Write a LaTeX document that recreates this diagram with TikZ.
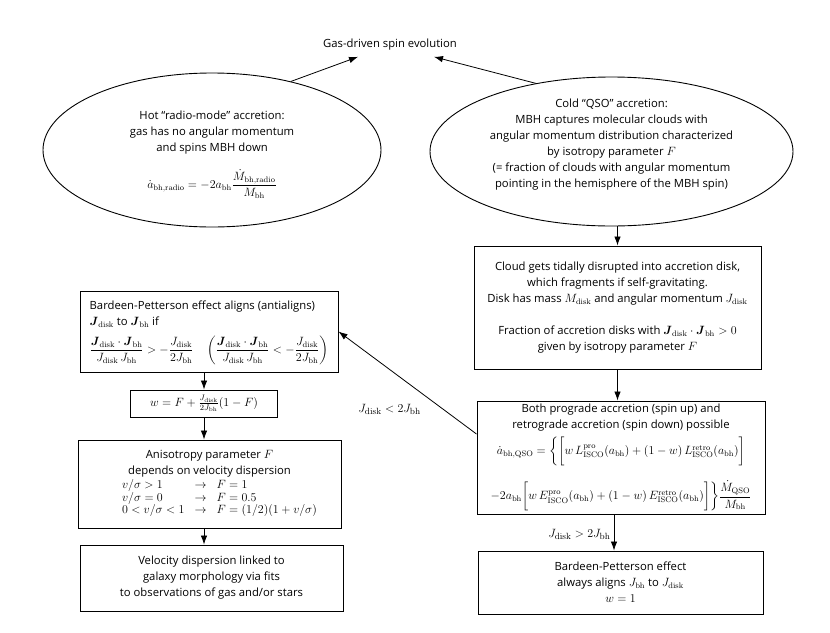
\documentclass[tikz,border=0pt]{standalone}
\usepackage{amsmath}
\usepackage[no-math]{fontspec}
\setmainfont{Open Sans}[Scale=0.94]
\usetikzlibrary{arrows.meta,shapes.geometric}
\begin{document}
\begin{tikzpicture}[x=1pt,y=1pt,
  >={Latex[length=9pt,width=6.5pt]},
  base/.style={font=\fontsize{12}{16}\selectfont, align=center},
  box/.style={base, draw, line width=1pt, rectangle, inner sep=2pt},
  oval/.style={draw, line width=0.9pt, ellipse, inner sep=0pt},
  conn/.style={->, line width=0.8pt},
  lbl/.style={font=\fontsize{12.5}{15}\selectfont}]
\useasboundingbox (0,0) rectangle (830,-632);

% title
\node[base, inner sep=6pt] (title) at (390,-45) {Gas-driven spin evolution};
\path (title.south) ++(-32,0) coordinate (tipL) ++(76,0) coordinate (tipR);

% ellipses
\node[oval, minimum width=338pt, minimum height=154pt] (radio) at (212,-150) {};
\node[base] (radiotext) at (212,-155) {Hot ``radio-mode'' accretion:\\ gas has no angular momentum\\ and spins MBH down\\[14pt]
 $\displaystyle \dot a_{\rm bh,radio} = -2a_{\rm bh}\frac{\dot M_{\rm bh,radio}}{M_{\rm bh}}$};

\node[oval, minimum width=363pt, minimum height=149pt] (qso) at (611.5,-151.5) {};
\node[base] (qsotext) at (611.5,-145) {Cold ``QSO'' accretion:\\ MBH captures molecular clouds with\\ angular momentum distribution characterized\\ by isotropy parameter $F$\\ (= fraction of clouds with angular momentum\\ pointing in the hemisphere of the MBH spin)};

% right column
\node[box, minimum width=287pt, minimum height=123pt] (cloud) at (617.5,-307.5) {Cloud gets tidally disrupted into accretion disk,\\ which fragments if self-gravitating.\\ Disk has mass $M_{\rm disk}$ and angular momentum $J_{\rm disk}$\\[16pt]
 Fraction of accretion disks with $\boldsymbol{J}_{\rm disk}\cdot\boldsymbol{J}_{\rm bh}>0$\\ given by isotropy parameter $F$};

\node[box, minimum width=288pt, minimum height=113pt] (both) at (621,-457.5) {Both prograde accretion (spin up) and\\ retrograde accretion (spin down) possible\\[5pt]
 $\dot a_{\rm bh,QSO} = \bigg\{\bigg[w\,L^{\rm pro}_{\rm ISCO}(a_{\rm bh})+(1-w)\,L^{\rm retro}_{\rm ISCO}(a_{\rm bh})\bigg]$\\[14pt]
 $-2a_{\rm bh}\bigg[w\,E^{\rm pro}_{\rm ISCO}(a_{\rm bh})+(1-w)\,E^{\rm retro}_{\rm ISCO}(a_{\rm bh})\bigg]\bigg\}\dfrac{\dot M_{\rm QSO}}{M_{\rm bh}}$};

\node[box, minimum width=285pt, minimum height=63pt] (bp2) at (620.5,-582.5) {Bardeen-Petterson effect\\ always aligns $J_{\rm bh}$ to $J_{\rm disk}$\\ $w=1$};

% left column
\node[box, minimum width=258pt, minimum height=81pt] (bp) at (209,-331.5) {\begin{tabular}{@{}l@{}}Bardeen-Petterson effect aligns (antialigns)\\ $\boldsymbol{J}_{\rm disk}$ to $\boldsymbol{J}_{\rm bh}$ if\\[6pt]
 $\displaystyle \frac{\boldsymbol{J}_{\rm disk}\cdot\boldsymbol{J}_{\rm bh}}{J_{\rm disk}\,J_{\rm bh}} > -\frac{J_{\rm disk}}{2J_{\rm bh}}\quad\left(\frac{\boldsymbol{J}_{\rm disk}\cdot\boldsymbol{J}_{\rm bh}}{J_{\rm disk}\,J_{\rm bh}} < -\frac{J_{\rm disk}}{2J_{\rm bh}}\right)$\end{tabular}};

\node[box, minimum width=147pt, minimum height=27pt] (wbox) at (204,-403.5) {$w = F + \tfrac{J_{\rm disk}}{2J_{\rm bh}}(1-F)$};

\node[box, minimum width=263pt, minimum height=88pt] (anis) at (209.5,-484) {Anisotropy parameter $F$\\ depends on velocity dispersion\\[1pt]
 \hspace*{20pt}{\renewcommand{\arraystretch}{0.76}$\begin{array}{@{}lll@{}} v/\sigma>1 & \rightarrow & F=1\\ v/\sigma=0 & \rightarrow & F=0.5\\ 0<v/\sigma<1 & \rightarrow & F=(1/2)(1+v/\sigma)\end{array}$}};

\node[box, minimum width=263pt, minimum height=66pt] (vel) at (211.5,-578) {Velocity dispersion linked to\\ galaxy morphology via fits\\ to observations of gas and/or stars};

% connectors
\draw[conn] (radio.41.7) -- (tipL);
\draw[conn] (qso.138) -- (tipR);
\draw[conn] (cloud.north |- qso.south) -- (cloud.north);
\draw[conn] (cloud.south) -- (cloud.south |- both.north);
\draw[conn] ([xshift=-7pt]both.south) -- ([xshift=-7pt]both.south |- bp2.north)
  node[lbl, midway, left, yshift=-2pt] (lgt) {$J_{\rm disk}>2J_{\rm bh}$};
\draw[conn] ([yshift=23.5pt]both.west) -- (bp.east)
  node[lbl, pos=0.63, yshift=-40pt] (llt) {$J_{\rm disk}<2J_{\rm bh}$};
\draw[conn] (wbox.north |- bp.south) -- (wbox.north);
\draw[conn] (wbox.south) -- (wbox.south |- anis.north);
\draw[conn] (wbox.south |- anis.south) -- (wbox.south |- vel.north);
\end{tikzpicture}
\end{document}
